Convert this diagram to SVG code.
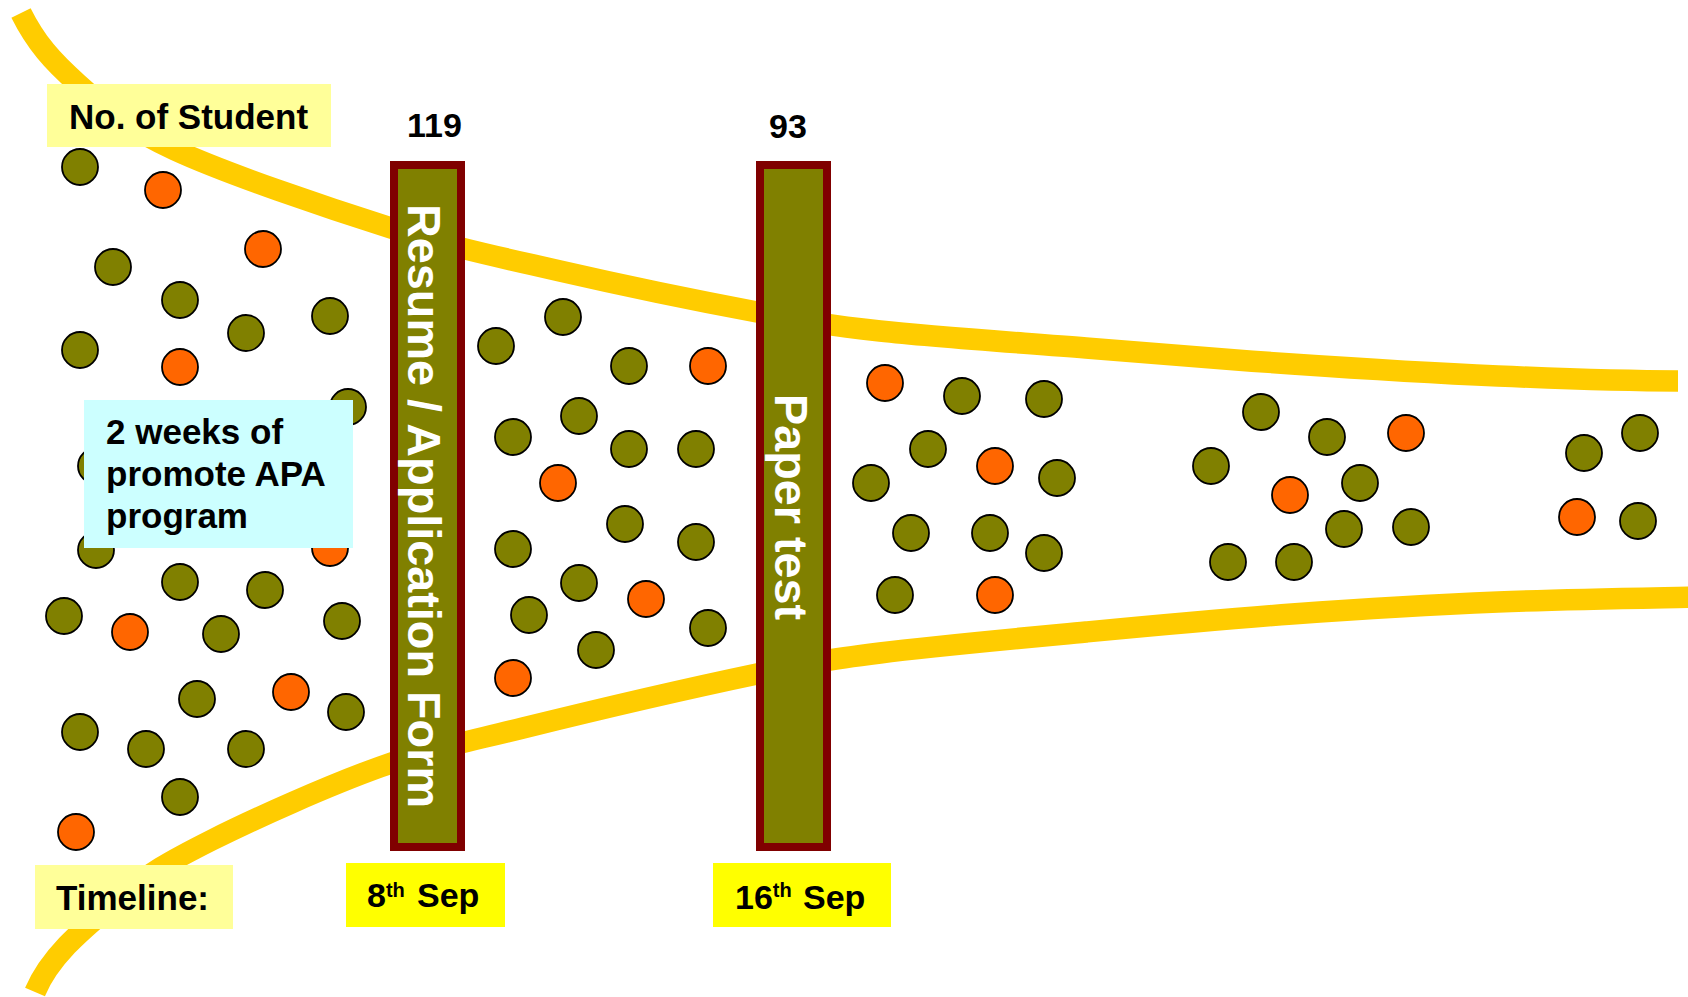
<svg xmlns="http://www.w3.org/2000/svg" width="1688" height="997" viewBox="0 0 1688 997">
  <style>
    .lbl { font-family: "Liberation Sans", Arial, sans-serif; font-weight: bold; fill: #000; }
    .bartxt { font-family: "Liberation Sans", Arial, sans-serif; font-weight: bold; fill: #fff; font-size: 47px; }
    .funnel { fill: none; stroke: #FFCC00; stroke-width: 21.5; stroke-linecap: butt; }
    .bar { fill: #808000; stroke: #800000; stroke-width: 8; }
    .g { fill: #808000; stroke: #000; stroke-width: 1.8; }
    .r { fill: #FF6600; stroke: #000; stroke-width: 1.8; }
  </style>
  <defs>
    <circle id="dot" r="18"/>
  </defs>

  <rect width="1688" height="997" fill="#fff"/>

  <!-- funnel edges -->
  <g id="connectors">
    <path class="funnel" d="M21,13 C36,43 52.3,61.2 78,84 C103.7,106.8 122.8,126 175,150 C227.2,174 326.8,207.8 391,228 C455.2,248.2 499,257 560,271 C621,285 703.7,302 757,312 C810.3,322 825.2,325 880,331 C934.8,337 1017.3,342.5 1086,348 C1154.7,353.5 1223.3,359.3 1292,364 C1360.7,368.7 1433.7,373.2 1498,376 C1562.3,378.8 1640,381 1678,381"/>
    <path class="funnel" d="M35,992 C51.6,952.3 90.5,923.3 120,898 C149.5,872.7 168.7,861.8 212,840 C255.3,818.2 328.2,785.7 380,767 C431.8,748.3 460.2,743.5 523,728 C585.8,712.5 697.5,686.5 757,674 C816.5,661.5 825.2,660 880,653 C934.8,646 1017.3,638.5 1086,632 C1154.7,625.5 1223.3,619 1292,614 C1360.7,609 1430,604.8 1498,602 C1566,599.2 1666.3,597.8 1700,597"/>
  </g>

  <!-- students: olive = general, orange = highlighted -->
  <g id="students-pool">
    <use href="#dot" class="g" x="80" y="167"/>
    <use href="#dot" class="r" x="163" y="190"/>
    <use href="#dot" class="g" x="113" y="267"/>
    <use href="#dot" class="r" x="263" y="249"/>
    <use href="#dot" class="g" x="180" y="300"/>
    <use href="#dot" class="g" x="246" y="333"/>
    <use href="#dot" class="g" x="330" y="316"/>
    <use href="#dot" class="g" x="80" y="350"/>
    <use href="#dot" class="r" x="180" y="367"/>
    <use href="#dot" class="g" x="348" y="407"/>
    <use href="#dot" class="g" x="96" y="466"/>
    <use href="#dot" class="g" x="96" y="550"/>
    <use href="#dot" class="r" x="330" y="548"/>
    <use href="#dot" class="g" x="180" y="582"/>
    <use href="#dot" class="g" x="265" y="590"/>
    <use href="#dot" class="g" x="64" y="616"/>
    <use href="#dot" class="r" x="130" y="632"/>
    <use href="#dot" class="g" x="221" y="634"/>
    <use href="#dot" class="g" x="342" y="621"/>
    <use href="#dot" class="g" x="197" y="699"/>
    <use href="#dot" class="r" x="291" y="692"/>
    <use href="#dot" class="g" x="346" y="712"/>
    <use href="#dot" class="g" x="80" y="732"/>
    <use href="#dot" class="g" x="146" y="749"/>
    <use href="#dot" class="g" x="246" y="749"/>
    <use href="#dot" class="g" x="180" y="797"/>
    <use href="#dot" class="r" x="76" y="832"/>
  </g>

  <g id="students-applied">
    <use href="#dot" class="g" x="496" y="346"/>
    <use href="#dot" class="g" x="563" y="317"/>
    <use href="#dot" class="g" x="629" y="366"/>
    <use href="#dot" class="r" x="708" y="366"/>
    <use href="#dot" class="g" x="513" y="437"/>
    <use href="#dot" class="g" x="579" y="416"/>
    <use href="#dot" class="g" x="629" y="449"/>
    <use href="#dot" class="g" x="696" y="449"/>
    <use href="#dot" class="r" x="558" y="483"/>
    <use href="#dot" class="g" x="625" y="524"/>
    <use href="#dot" class="g" x="696" y="542"/>
    <use href="#dot" class="g" x="513" y="549"/>
    <use href="#dot" class="g" x="579" y="583"/>
    <use href="#dot" class="r" x="646" y="599"/>
    <use href="#dot" class="g" x="529" y="615"/>
    <use href="#dot" class="g" x="708" y="628"/>
    <use href="#dot" class="g" x="596" y="650"/>
    <use href="#dot" class="r" x="513" y="678"/>
  </g>

  <g id="students-tested">
    <use href="#dot" class="r" x="885" y="383"/>
    <use href="#dot" class="g" x="962" y="396"/>
    <use href="#dot" class="g" x="1044" y="399"/>
    <use href="#dot" class="g" x="928" y="449"/>
    <use href="#dot" class="r" x="995" y="466"/>
    <use href="#dot" class="g" x="871" y="483"/>
    <use href="#dot" class="g" x="1057" y="478"/>
    <use href="#dot" class="g" x="911" y="533"/>
    <use href="#dot" class="g" x="990" y="533"/>
    <use href="#dot" class="g" x="1044" y="553"/>
    <use href="#dot" class="g" x="895" y="595"/>
    <use href="#dot" class="r" x="995" y="595"/>
  </g>

  <g id="students-shortlist">
    <use href="#dot" class="g" x="1261" y="412"/>
    <use href="#dot" class="g" x="1327" y="437"/>
    <use href="#dot" class="r" x="1406" y="433"/>
    <use href="#dot" class="g" x="1211" y="466"/>
    <use href="#dot" class="g" x="1360" y="483"/>
    <use href="#dot" class="r" x="1290" y="495"/>
    <use href="#dot" class="g" x="1344" y="529"/>
    <use href="#dot" class="g" x="1411" y="527"/>
    <use href="#dot" class="g" x="1228" y="562"/>
    <use href="#dot" class="g" x="1294" y="562"/>
  </g>

  <g id="students-final">
    <use href="#dot" class="g" x="1640" y="433"/>
    <use href="#dot" class="g" x="1584" y="453"/>
    <use href="#dot" class="r" x="1577" y="517"/>
    <use href="#dot" class="g" x="1638" y="521"/>
  </g>

  <!-- labels -->
  <g id="label-students">
    <rect x="47" y="84" width="284" height="63" fill="#FFFF99"/>
    <text class="lbl" x="69" y="129" font-size="35">No. of Student</text>
  </g>

  <g id="note-promote">
    <rect x="84" y="400" width="269" height="148" fill="#CCFFFF"/>
    <text class="lbl" font-size="35">
      <tspan x="106" y="444">2 weeks of</tspan>
      <tspan x="106" y="486">promote APA</tspan>
      <tspan x="106" y="528">program</tspan>
    </text>
  </g>

  <g id="label-timeline">
    <rect x="35" y="865" width="198" height="64" fill="#FFFF99"/>
    <text class="lbl" x="56" y="910" font-size="35">Timeline:</text>
  </g>

  <!-- stage 1 -->
  <g id="stage-resume">
    <text class="lbl" x="434.5" y="137" font-size="34" text-anchor="middle">119</text>
    <rect class="bar" x="394" y="165" width="67" height="682"/>
    <text class="bartxt" transform="translate(408,506) rotate(90)" text-anchor="middle" textLength="604" lengthAdjust="spacingAndGlyphs">Resume / Application Form</text>
    <rect x="346" y="863" width="159" height="64" fill="#FFFF00"/>
    <text class="lbl" font-size="34"><tspan x="367" y="907">8</tspan><tspan y="897" font-size="20">th</tspan><tspan x="417" y="907">Sep</tspan></text>
  </g>

  <!-- stage 2 -->
  <g id="stage-paper">
    <text class="lbl" x="788" y="138" font-size="34" text-anchor="middle">93</text>
    <rect class="bar" x="760" y="165" width="67" height="682"/>
    <text class="bartxt" transform="translate(775,507) rotate(90)" text-anchor="middle" textLength="226" lengthAdjust="spacingAndGlyphs">Paper test</text>
    <rect x="713" y="863" width="178" height="64" fill="#FFFF00"/>
    <text class="lbl" font-size="34"><tspan x="735" y="909">16</tspan><tspan y="897" font-size="20">th</tspan><tspan x="803" y="909">Sep</tspan></text>
  </g>
</svg>
